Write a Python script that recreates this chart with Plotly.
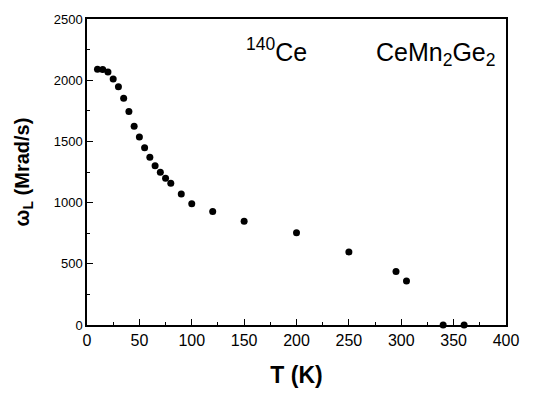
import plotly.graph_objects as go

T = [10, 15, 20, 25, 30, 35, 40, 45, 50, 55, 60, 65, 70, 75, 80, 90, 100, 120, 150, 200, 250, 295, 305, 340, 360]
omega = [2090, 2088, 2066, 2010, 1946, 1853, 1744, 1624, 1536, 1448, 1371, 1302, 1248, 1198, 1158, 1070, 990, 927, 847, 753, 597, 437, 359, 0, 0]

x_ticks = [0, 50, 100, 150, 200, 250, 300, 350, 400]
y_ticks = [0, 500, 1000, 1500, 2000, 2500]

FONT = "Liberation Sans, Arial, Helvetica, sans-serif"

fig = go.Figure()
fig.add_trace(go.Scatter(
    x=T, y=omega, mode="markers",
    marker=dict(color="black", size=7, line=dict(width=0)),
    cliponaxis=False, showlegend=False,
))

axis_common = dict(
    showgrid=False, zeroline=False, showline=True, linecolor="black", linewidth=1.5,
    mirror=True, ticks="inside", ticklen=6, tickwidth=1.2, tickcolor="black",
)

fig.update_layout(
    width=560, height=396,
    margin=dict(l=87, r=54, t=13, b=70),
    paper_bgcolor="white", plot_bgcolor="white",
    font=dict(family=FONT, color="black"),
    xaxis=dict(
        range=[0, 400], tickvals=x_ticks, ticktext=[str(v) for v in x_ticks],
        tickfont=dict(family=FONT, size=16, color="black"),
        minor=dict(dtick=25, ticks="inside", ticklen=3, tickwidth=1.2, tickcolor="black"),
        title=dict(text="<b>T (K)</b>", font=dict(family=FONT, size=23), standoff=19),
        **axis_common,
    ),
    yaxis=dict(
        range=[0, 2500], tickvals=y_ticks, ticktext=[str(v) for v in y_ticks],
        tickfont=dict(family=FONT, size=13, color="black"),
        minor=dict(dtick=250, ticks="inside", ticklen=3, tickwidth=1.2, tickcolor="black"),
        title=dict(text="<b>ω<sub>L</sub> (Mrad/s)</b>", font=dict(family=FONT, size=20), standoff=19),
        **axis_common,
    ),
    annotations=[
        dict(text="<sup>140</sup>Ce", x=0.453, y=0.90, xref="paper", yref="paper",
             showarrow=False, font=dict(family=FONT, size=25, color="black"),
             xanchor="center", yanchor="middle"),
        dict(text="CeMn<sub>2</sub>Ge<sub>2</sub>", x=0.982, y=0.885, xref="paper", yref="paper",
             showarrow=False, font=dict(family=FONT, size=25, color="black"),
             xanchor="right", yanchor="middle"),
    ],
)

fig.write_html("out.html")
